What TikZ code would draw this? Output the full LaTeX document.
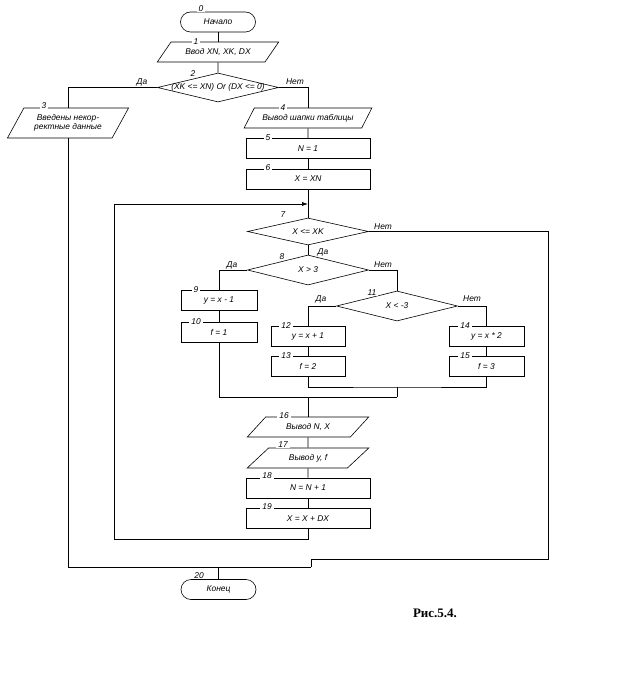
\documentclass[tikz,border=0pt]{standalone}
\usepackage{fontspec}
\setmainfont{Liberation Sans}
\newfontfamily\capfont{Liberation Serif}
\usetikzlibrary{shapes.geometric,arrows.meta}

\begin{document}
\begin{tikzpicture}
    [x=1pt, y=-1pt, line width=0.6pt,
     txt/.style = {font=\fontsize{8.4}{9.5}\selectfont\itshape, inner sep=0pt},
     term/.style = {draw, rectangle, rounded corners=10pt, minimum width=75pt, minimum height=20pt, txt},
     proc/.style = {draw, rectangle, minimum width=124pt, minimum height=20pt, txt},
     io/.style = {draw, trapezium, trapezium left angle=37, trapezium right angle=143,
                  trapezium stretches, minimum width=122pt, minimum height=20pt, txt},
     decide/.style = {draw, diamond, minimum width=121pt, minimum height=29pt, inner sep=0pt},
     num/.style = {txt, fill=white, inner xsep=2pt},
     lbl/.style = {txt}]
    \useasboundingbox (0,0) rectangle (625,684);
    \node[term] (n0) at (218,22) {Начало};
    \node[io] (n1) at (218,52) {Ввод XN, XK, DX};
    \node[decide, label={[txt]center:{(XK <= XN) Or (DX <= 0)}}] (n2) at (218,87.5) {};
    \node[io, trapezium left angle=54, trapezium right angle=126, minimum height=30pt,
          align=center] (n3) at (68,123) {Введены некор-\\ректные данные};
    \node[io, trapezium left angle=42, trapezium right angle=138, minimum width=128pt] (n4) at (308,118) {Вывод шапки таблицы};
    \node[proc] (n5) at (308,148.5) {N = 1};
    \node[proc] (n6) at (308,179) {X = XN};
    \node[decide, minimum height=27pt, label={[txt]center:{X <= XK}}] (n7) at (308,231.5) {};
    \node[decide, minimum height=30pt, label={[txt]center:{X > 3}}] (n8) at (308,270) {};
    \node[proc, minimum width=76pt] (n9) at (219,300.5) {y = x - 1};
    \node[proc, minimum width=76pt] (n10) at (219,332) {f = 1};
    \node[decide, minimum height=30pt, label={[txt]center:{X < -3}}] (n11) at (397,306) {};
    \node[proc, minimum width=74pt] (n12) at (308,336) {y = x + 1};
    \node[proc, minimum width=74pt] (n13) at (308,366.5) {f = 2};
    \node[proc, minimum width=75pt] (n14) at (486.5,336) {y = x * 2};
    \node[proc, minimum width=75pt] (n15) at (486.5,366.5) {f = 3};
    \node[io] (n16) at (308,427) {Вывод N, X};
    \node[io] (n17) at (308,458) {Вывод y, f};
    \node[proc] (n18) at (308,488) {N = N + 1};
    \node[proc] (n19) at (308,518.5) {X = X + DX};
    \node[term] (n20) at (218.5,589.5) {Конец};
    \node[font=\capfont\bfseries\fontsize{13}{15}\selectfont] (cap) at (435,613) {Рис.5.4.};

    \coordinate (j1) at (397,387);
    \coordinate (j2) at (397,397);
    \coordinate (lb) at (114,539);
    \coordinate (lt) at (308,204);
    \coordinate (r1) at (548,559);
    \coordinate (r2) at (311,567);

    \foreach \from/ \to in {n0/n1,n1/n2,n4/n5,n5/n6,n6/n7,n7/n8,n9/n10,n12/n13,n14/n15,n16/n17,n17/n18,n18/n19}
      \draw (\from) -- (\to);
    \draw (n2.west) -| (n3.north);
    \draw (n2.east) -| (n4.north);
    \draw (n8.west) -| (n9.north);
    \draw (n8.east) -| (n11.north);
    \draw (n11.west) -| (n12.north);
    \draw (n11.east) -| (n14.north);
    \draw (n13.south) |- (j1) -| (n15.south);
    \draw (j1) -- (j2);
    \draw (n10.south) |- (j2);
    \draw (n16.north) -- (n16.north |- j2);
    \draw[-{Latex[length=6pt,width=4pt]}] (n19.south) |- (lb) |- (lt);
    \draw (n7.east) -| (r1) -| (r2);
    \draw (n3.south) |- (r2);
    \draw (n20.north) -- (n20.north |- r2);

    % block numbers
    \foreach \n/\x/\y in {0/201/9,1/196/42,2/193/74,3/44/106,4/283/108,5/268/138,6/268/168,
                          7/283/215,8/282/257,9/196/290,10/196/322,11/372/293,12/286/326,
                          13/286/356,14/465/326,15/465/356,16/284/416,17/283/445,18/267/476,
                          19/267/507,20/199/576}
      \node[num] (l\n) at (\x,\y) {\n};
    % branch labels
    \foreach \t/\x/\y [count=\i] in {Да/142/82,Нет/295/82,Нет/383/227,Да/323/252,
                                     Да/232/265,Нет/383/265,Да/321/299,Нет/472/299}
      \node[lbl] (e\i) at (\x,\y) {\t};
  \end{tikzpicture}
\end{document}
